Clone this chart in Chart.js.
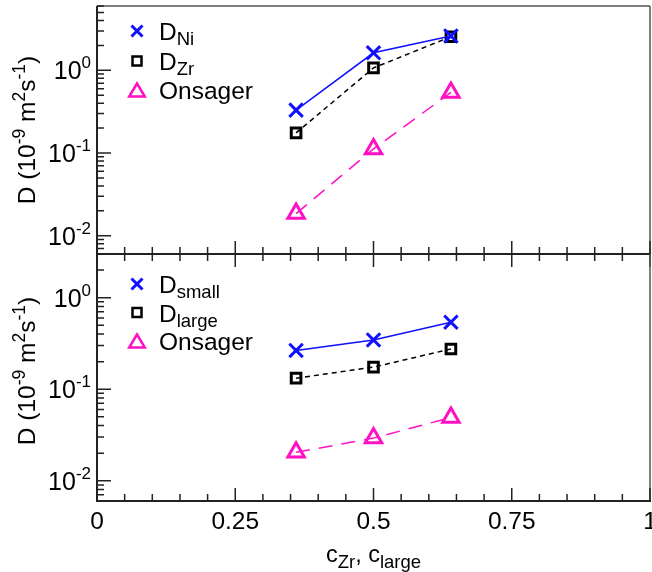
<!DOCTYPE html>
<html><head><meta charset="utf-8">
<script src="https://cdn.jsdelivr.net/npm/chart.js@4.4.0/dist/chart.umd.min.js"></script>
<style>
html,body{margin:0;padding:0;background:#fff;width:652px;height:572px;overflow:hidden}
#wrap{position:relative;width:652px;height:572px}
canvas{position:absolute;left:0}
</style></head><body>
<div id="wrap">
<canvas id="cTop" width="652" height="272" style="top:0"></canvas>
<canvas id="cBot" width="652" height="332" style="top:240px"></canvas>
</div>
<script>
// ---- data ----
const concentration = [0.36, 0.5, 0.64];
const topNi = [0.33, 1.63, 2.6];
const topZr = [0.175, 1.07, 2.55];
const topOnsager = [0.0185, 0.112, 0.54];
const botSmall = [0.265, 0.345, 0.54];
const botLarge = [0.132, 0.174, 0.275];
const botOnsager = [0.0204, 0.0292, 0.049];
const xTickValues = [0, 0.25, 0.5, 0.75, 1];
const xTickLabels = ['0', '0.25', '0.5', '0.75', '1'];
const yDecadeValues = [0.01, 0.1, 1];
const yDecadeExponents = ['-2', '-1', '0'];
const topRange = [0.006, 6];
const botRange = [0.006, 3];
const topLegend = [['D', 'Ni'], ['D', 'Zr'], ['Onsager', '']];
const botLegend = [['D', 'small'], ['D', 'large'], ['Onsager', '']];

// ---- styles ----
const BLUE = '#1010ff', BLACK = '#000000', MAG = '#ff10c4';
const FONT = '"Liberation Sans", Arial, Helvetica, sans-serif';
const AXIS = '#222';

function setFont(ctx, size) { ctx.font = size + 'px ' + FONT; }
function richWidth(ctx, parts, big, small) {
  let w = 0;
  for (const [t, m] of parts) { setFont(ctx, m ? small : big); w += ctx.measureText(t).width; }
  return w;
}
function drawRich(ctx, parts, x, y, big, small, supDy, subDy) {
  for (const [t, m] of parts) {
    setFont(ctx, m ? small : big);
    const dy = m === 'sup' ? -supDy : (m === 'sub' ? subDy : 0);
    ctx.fillText(t, x, y + dy);
    x += ctx.measureText(t).width;
  }
}
function drawMarker(ctx, kind, x, y, color) {
  ctx.save();
  ctx.strokeStyle = color; ctx.lineWidth = kind === 'x' ? 3 : 2.5;
  ctx.setLineDash([]);
  ctx.beginPath();
  if (kind === 'x') {
    const r = 5.5;
    ctx.moveTo(x - r, y - r); ctx.lineTo(x + r, y + r);
    ctx.moveTo(x - r, y + r); ctx.lineTo(x + r, y - r);
  } else if (kind === 's') {
    const h = 4.5;
    ctx.rect(x - h, y - h, 2 * h, 2 * h);
  } else {
    const s = 7.8;
    ctx.moveTo(x, y - 6.5); ctx.lineTo(x + s, y + 6.5); ctx.lineTo(x - s, y + 6.5); ctx.closePath();
  }
  ctx.stroke();
  ctx.restore();
}

const framePlugin = {
  id: 'frame',
  afterDraw(chart, args, opts) {
    const ctx = chart.ctx, ca = chart.chartArea;
    const xs = chart.scales.x, ys = chart.scales.y;
    const isTop = opts.panel === 'top';
    ctx.save();
    ctx.textBaseline = 'alphabetic'; ctx.textAlign = 'left';
    // frame
    ctx.strokeStyle = '#555'; ctx.lineWidth = 1.5; ctx.setLineDash([]);
    ctx.beginPath();
    if (isTop) { ctx.moveTo(ca.left, ca.top); ctx.lineTo(ca.right, ca.top); }
    ctx.moveTo(ca.right, ca.top); ctx.lineTo(ca.right, ca.bottom);
    ctx.stroke();
    ctx.strokeStyle = AXIS; ctx.lineWidth = 2;
    ctx.beginPath();
    ctx.moveTo(ca.left, ca.top); ctx.lineTo(ca.left, ca.bottom);
    ctx.moveTo(ca.left - 1, ca.bottom); ctx.lineTo(ca.right + 1, ca.bottom);
    ctx.stroke();
    // x ticks
    ctx.lineWidth = 1.5; ctx.strokeStyle = AXIS;
    ctx.beginPath();
    for (let i = 0; i <= 20; i++) {
      const px = xs.getPixelForValue(i / 20);
      const major = i % 5 === 0;
      const L = major ? 13 : 7;
      ctx.moveTo(px, ca.bottom - L);
      ctx.lineTo(px, isTop ? ca.bottom + L : ca.bottom);
    }
    ctx.stroke();
    // y ticks
    ctx.beginPath();
    for (let d = -3; d <= 1; d++) {
      for (let m = 1; m <= 9; m++) {
        const v = m * Math.pow(10, d);
        if (v < ys.min * 0.999 || v > ys.max * 1.001) continue;
        const py = ys.getPixelForValue(v);
        ctx.moveTo(ca.left, py); ctx.lineTo(ca.left + (m === 1 ? 14 : 7), py);
      }
    }
    ctx.stroke();
    // y tick labels
    ctx.fillStyle = '#000';
    yDecadeValues.forEach((v, i) => {
      const py = ys.getPixelForValue(v);
      const parts = [['10', ''], [yDecadeExponents[i], 'sup']];
      const w = richWidth(ctx, parts, 25, 17);
      drawRich(ctx, parts, 91 - w, py + 9, 25, 17, 11, 0);
    });
    // x tick labels (bottom panel)
    if (!isTop) {
      xTickValues.forEach((v, i) => {
        const px = xs.getPixelForValue(v);
        setFont(ctx, 24.5);
        const w = ctx.measureText(xTickLabels[i]).width;
        ctx.fillText(xTickLabels[i], px - w / 2, ca.bottom + 28);
      });
      // x title
      const parts = [['c', ''], ['Zr', 'sub'], [', c', ''], ['large', 'sub']];
      const w = richWidth(ctx, parts, 23.5, 18.5);
      drawRich(ctx, parts, xs.getPixelForValue(0.5) - w / 2, ca.bottom + 61, 23.5, 18.5, 0, 6);
    }
    // y title
    {
      const parts = [['D (10', ''], ['-9', 'sup'], [' m', ''], ['2', 'sup'], ['s', ''], ['-1', 'sup'], [')', '']];
      const w = richWidth(ctx, parts, 24.5, 17.5);
      const cy = isTop ? 130 : 371 - (240);
      ctx.save();
      ctx.translate(35, cy);
      ctx.rotate(-Math.PI / 2);
      drawRich(ctx, parts, -w / 2, 0, 24.5, 17.5, 10, 0);
      ctx.restore();
    }
    // legend
    const leg = opts.legend, rows = opts.legendRows;
    const kinds = ['x', 's', 't'], cols = [BLUE, BLACK, MAG];
    leg.forEach((item, i) => {
      const cy = rows[i];
      drawMarker(ctx, kinds[i], 137, cy, cols[i]);
      ctx.fillStyle = '#000';
      const parts = item[1] ? [[item[0], ''], [item[1], 'sub']] : [[item[0], '']];
      drawRich(ctx, parts, 159, cy + 9, 24.5, 18.5, 0, 5);
    });
    ctx.restore();
  }
};

function makeDatasets(a, b, c) {
  const pts = arr => concentration.map((x, i) => ({ x: x, y: arr[i] }));
  return [
    { label: 'a', data: pts(a), borderColor: BLUE, backgroundColor: 'rgba(0,0,0,0)', borderWidth: 1.5,
      pointStyle: 'crossRot', pointRadius: 9.5, pointBorderWidth: 3, pointBorderColor: BLUE, clip: false },
    { label: 'b', data: pts(b), borderColor: BLACK, backgroundColor: 'rgba(0,0,0,0)', borderWidth: 1.5, borderDash: [5, 4],
      pointStyle: 'rect', pointRadius: 6.8, pointBorderWidth: 3, pointBorderColor: BLACK, clip: false },
    { label: 'c', data: pts(c), borderColor: MAG, backgroundColor: 'rgba(0,0,0,0)', borderWidth: 1.5, borderDash: [14, 9],
      pointStyle: 'triangle', pointRadius: 9.5, pointBorderWidth: 3, pointBorderColor: MAG, clip: false }
  ];
}

function makeChart(id, range, datasets, padding, panel, legend, legendRows) {
  return new Chart(document.getElementById(id), {
    type: 'line',
    data: { datasets: datasets },
    options: {
      responsive: false, animation: false, devicePixelRatio: 1,
      layout: { padding: padding, autoPadding: false },
      scales: {
        x: { type: 'linear', min: 0, max: 1, display: false },
        y: { type: 'logarithmic', min: range[0], max: range[1], display: false }
      },
      plugins: {
        legend: { display: false }, tooltip: { enabled: false },
        frame: { panel: panel, legend: legend, legendRows: legendRows }
      }
    },
    plugins: [framePlugin]
  });
}

makeChart('cTop', topRange, makeDatasets(topNi, topZr, topOnsager),
  { left: 97, right: 2, top: 6, bottom: 18 }, 'top', topLegend, [31, 61, 90]);
makeChart('cBot', botRange, makeDatasets(botSmall, botLarge, botOnsager),
  { left: 97, right: 2, top: 14, bottom: 71 }, 'bot', botLegend, [284 - 240, 312.5 - 240, 341 - 240]);
</script>
</body></html>
